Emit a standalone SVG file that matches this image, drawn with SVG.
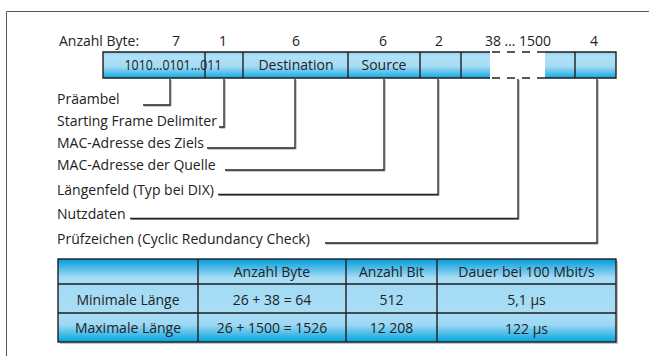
<svg xmlns="http://www.w3.org/2000/svg" width="649" height="356" viewBox="0 0 649 356">
  <defs>
    <linearGradient id="cellFill" x1="0" y1="0" x2="0" y2="1">
      <stop offset="0" stop-color="#86d0f2"/>
      <stop offset="0.15" stop-color="#b0e1f7"/>
      <stop offset="0.55" stop-color="#a6dcf5"/>
      <stop offset="1" stop-color="#12a9e3"/>
    </linearGradient>
    <linearGradient id="headFill" x1="0" y1="0" x2="0" y2="1">
      <stop offset="0" stop-color="#009bd9"/>
      <stop offset="0.75" stop-color="#a6dcf5"/>
      <stop offset="1" stop-color="#aadef6"/>
    </linearGradient>
    <linearGradient id="midFill" x1="0" y1="0" x2="0" y2="1">
      <stop offset="0" stop-color="#a2daf5"/>
      <stop offset="1" stop-color="#aadef6"/>
    </linearGradient>
    <linearGradient id="lastFill" x1="0" y1="0" x2="0" y2="1">
      <stop offset="0" stop-color="#aadef6"/>
      <stop offset="0.4" stop-color="#9ed8f4"/>
      <stop offset="1" stop-color="#00a5e0"/>
    </linearGradient>
  </defs>
  <style>
    text { font-family: "Open Sans", "Noto Sans", sans-serif; font-size: 14px; fill: #222; }
    .mid { text-anchor: middle; }
    .edge { fill: none; stroke: #1e1e1e; stroke-width: 1.4; }
    .lead { fill: none; stroke: #222; stroke-width: 1.3; }
    .leadShade { fill: none; stroke: #9a9a9a; stroke-width: 1; }
    .dash { fill: none; stroke: #222; stroke-width: 1.4; stroke-dasharray: 8 7; }
    .frame { fill: none; stroke: #555; stroke-width: 1; }
  </style>

  <rect x="0" y="0" width="649" height="356" fill="#ffffff"/>
  <path class="frame" d="M6.5 356 V11.5 H649"/>

  <!-- byte counts above the frame fields -->
  <g id="byte-counts">
    <text x="59" y="45.5">Anzahl Byte:</text>
    <text class="mid" x="176" y="45.5">7</text>
    <text class="mid" x="223" y="45.5">1</text>
    <text class="mid" x="296" y="45.5">6</text>
    <text class="mid" x="383" y="45.5">6</text>
    <text class="mid" x="439" y="45.5">2</text>
    <text class="mid" x="518" y="45.5">38 … 1500</text>
    <text class="mid" x="594" y="45.5">4</text>
  </g>

  <!-- Ethernet frame fields -->
  <g id="frame-fields">
    <rect x="103" y="52" width="387" height="26" fill="url(#cellFill)"/>
    <rect x="545" y="52" width="71" height="26" fill="url(#cellFill)"/>
    <path class="edge" d="M490 52 H103 V78 H490"/>
    <path class="edge" d="M545 52 H616 V78 H545"/>
    <path class="edge" d="M205 52 V78 M243 52 V78 M348 52 V78 M420 52 V78 M461 52 V78 M575 52 V78"/>
    <path class="dash" d="M492 52 H545 M492 78 H545"/>
    <text class="mid" x="173" y="69.5" textLength="97" lengthAdjust="spacingAndGlyphs">1010…0101…011</text>
    <text class="mid" x="296" y="69.5">Destination</text>
    <text class="mid" x="384" y="69.5">Source</text>
  </g>

  <!-- field descriptions -->
  <g id="field-labels">
    <text x="57" y="104">Präambel</text>
    <text x="57" y="126">Starting Frame Delimiter</text>
    <text x="57" y="147.5">MAC-Adresse des Ziels</text>
    <text x="57" y="169.5">MAC-Adresse der Quelle</text>
    <text x="57" y="195">Längenfeld (Typ bei DIX)</text>
    <text x="57" y="219">Nutzdaten</text>
    <text x="57" y="243.5">Prüfzeichen (Cyclic Redundancy Check)</text>
  </g>

  <!-- leader lines from the labels up to the fields -->
  <g id="connectors">
    <g transform="translate(1,1)">
      <path class="leadShade" d="M143 105 H170 V79"/>
      <path class="leadShade" d="M219 127 H224 V79"/>
      <path class="leadShade" d="M207 148 H295 V79"/>
      <path class="leadShade" d="M225 170 H384 V79"/>
      <path class="leadShade" d="M218 194.5 H438 V79"/>
      <path class="leadShade" d="M130 218.5 H518 V79"/>
      <path class="leadShade" d="M325 243 H597 V79"/>
    </g>
    <path class="lead" d="M143 105 H170 V79"/>
    <path class="lead" d="M219 127 H224 V79"/>
    <path class="lead" d="M207 148 H295 V79"/>
    <path class="lead" d="M225 170 H384 V79"/>
    <path class="lead" d="M218 194.5 H438 V79"/>
    <path class="lead" d="M130 218.5 H518 V79"/>
    <path class="lead" d="M325 243 H597 V79"/>
  </g>

  <!-- frame length table -->
  <g id="length-table">
    <rect x="60" y="261" width="558" height="83" fill="#c4c4c4"/>
    <rect x="58" y="259" width="558" height="25" fill="url(#headFill)"/>
    <rect x="58" y="284" width="558" height="29" fill="url(#midFill)"/>
    <rect x="58" y="313" width="558" height="29" fill="url(#lastFill)"/>
    <rect class="edge" x="58" y="259" width="558" height="83"/>
    <path class="edge" d="M58 284 H616 M58 313 H616 M198 259 V342 M346 259 V342 M437 259 V342"/>
    <text class="mid" x="272" y="276.5">Anzahl Byte</text>
    <text class="mid" x="391.5" y="276.5">Anzahl Bit</text>
    <text class="mid" x="526.5" y="276.5">Dauer bei 100 Mbit/s</text>
    <text class="mid" x="128" y="304.5">Minimale Länge</text>
    <text class="mid" x="272" y="304.5">26 + 38 = 64</text>
    <text class="mid" x="391.5" y="304.5">512</text>
    <text class="mid" x="526.5" y="305">5,1 µs</text>
    <text class="mid" x="128" y="333">Maximale Länge</text>
    <text class="mid" x="272" y="333">26 + 1500 = 1526</text>
    <text class="mid" x="391.5" y="333">12 208</text>
    <text class="mid" x="526.5" y="334">122 µs</text>
  </g>
</svg>
